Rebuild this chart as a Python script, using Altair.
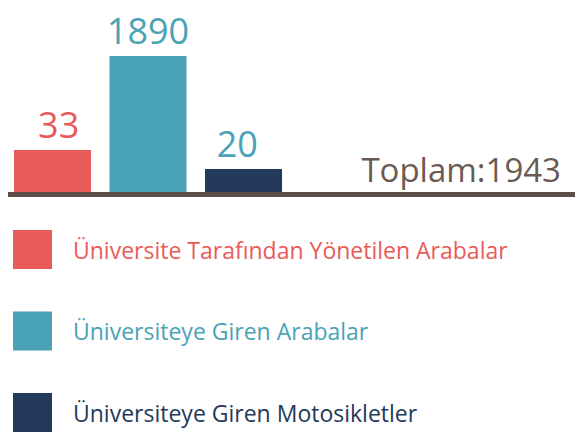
import altair as alt
import pandas as pd

categories = [
    "Üniversite Tarafından Yönetilen Arabalar",
    "Üniversiteye Giren Arabalar",
    "Üniversiteye Giren Motosikletler",
]
values = [33, 1890, 20]
colors = ["#E85B5A", "#4AA2B6", "#243A5B"]
total_label = "Toplam"

RED, TEAL, NAVY, BROWN = colors[0], colors[1], colors[2], "#5E4E47"
FONT = "Open Sans"

df = pd.DataFrame({"category": categories, "value": values})
total_df = pd.DataFrame({"text": [f"{total_label}:{sum(values)}"]})

color_scale = alt.Scale(domain=categories, range=colors)
x_scale = alt.Scale(domain=categories, range=[6, 274], paddingInner=0.194, paddingOuter=0)
# bars are drawn on an illustrative (non-proportional) piecewise scale, as in the original
y_scale = alt.Scale(domain=[0, 20, 33, 1890], range=[184, 161, 142, 48], nice=False, zero=False)
leg_scale = alt.Scale(domain=categories, range=[241.5, 404.5], padding=0)

base = alt.Chart(df)

bars = base.mark_bar(size=77).encode(
    x=alt.X("category:N", scale=x_scale, axis=None, sort=categories),
    y=alt.Y("value:Q", scale=y_scale, axis=None),
    color=alt.Color("category:N", scale=color_scale, legend=None),
)

labels = base.mark_text(font=FONT, fontSize=36, baseline="alphabetic", dy=-12).encode(
    x=alt.X("category:N", scale=x_scale, axis=None, sort=categories),
    y=alt.Y("value:Q", scale=y_scale, axis=None),
    text="value:Q",
    color=alt.condition(f"datum.category == '{categories[0]}'", alt.value(RED), alt.value(TEAL)),
)

baseline = alt.Chart(total_df).mark_rule(color=BROWN, strokeWidth=5).encode(
    x=alt.value(-2), x2=alt.value(572), y=alt.value(186.5)
)

total = alt.Chart(total_df).mark_text(
    font=FONT, fontSize=33, color="#6A5A52", align="right", baseline="alphabetic"
).encode(x=alt.value(553), y=alt.value(174), text="text:N")

leg_sq = base.mark_square(size=1521, opacity=1, strokeWidth=0).encode(
    x=alt.value(24.5),
    y=alt.Y("category:N", scale=leg_scale, axis=None, sort=categories),
    color=alt.Color("category:N", scale=color_scale, legend=None),
)

leg_txt = base.mark_text(font=FONT, fontSize=23, align="left", baseline="middle", dy=2).encode(
    x=alt.value(65),
    y=alt.Y("category:N", scale=leg_scale, axis=None, sort=categories),
    text="category:N",
    color=alt.Color("category:N", scale=color_scale, legend=None),
)

chart = alt.layer(bars, labels, baseline, total, leg_sq, leg_txt).resolve_scale(
    x="independent", y="independent", color="independent"
).properties(
    width=567, height=424, padding=0, autosize=alt.AutoSizeParams(type="none")
).configure_view(stroke=None)

chart.save("out.html", embed_options={"renderer": "svg", "actions": False})
